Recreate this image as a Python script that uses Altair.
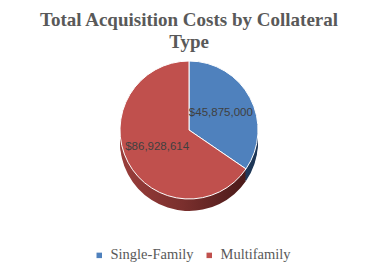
import altair as alt
import pandas as pd

categories = ["Single-Family", "Multifamily"]
values = [45875000, 86928614]
labels = ["$45,875,000", "$86,928,614"]
top_colors = ["#4F81BD", "#C0504D"]
side_fills = [
    {"gradient": "linear", "x1": 0, "x2": 1, "y1": 0, "y2": 0,
     "stops": [{"offset": 0, "color": "#2B4B73"}, {"offset": 1, "color": "#1C3454"}]},
    {"gradient": "linear", "x1": 0, "x2": 1, "y1": 0, "y2": 0,
     "stops": [{"offset": 0, "color": "#9A3E3B"}, {"offset": 0.5, "color": "#7A2F2D"},
               {"offset": 1, "color": "#4A1A19"}]},
]

df = pd.DataFrame({"category": categories, "value": values, "label": labels, "idx": [0, 1]})

CX, CY, R, DEPTH = 189, 74, 69, 12

base = alt.Chart(df)
theta = alt.Theta("value:Q", stack=True)
order = alt.Order("idx:Q")

layers = []
for d in range(DEPTH, 0, -2):
    for i, cat in enumerate(categories):
        layers.append(
            base.transform_joinaggregate(total="sum(value)")
            .transform_window(cum="sum(value)", sort=[alt.SortField("idx")])
            .transform_calculate(
                t0="2*PI*(datum.cum - datum.value)/datum.total",
                t1="2*PI*datum.cum/datum.total",
            )
            .transform_filter(alt.datum.category == cat)
            .mark_arc(radius=R, fill=side_fills[i])
            .encode(theta=alt.Theta("t0:Q", scale=None), theta2="t1:Q",
                    x=alt.value(CX), y=alt.value(CY + d))
        )

top = base.mark_arc(radius=R, stroke="white", strokeWidth=1).encode(
    theta=theta,
    order=order,
    x=alt.value(CX),
    y=alt.value(CY),
    color=alt.Color(
        "category:N",
        scale=alt.Scale(domain=categories, range=top_colors),
        sort=categories,
        legend=alt.Legend(
            title=None, orient="none", direction="horizontal",
            legendX=92, legendY=192,
            symbolType="square", symbolSize=30, symbolStrokeWidth=0,
            labelFont="Liberation Serif", labelFontSize=14.5, labelColor="#595959",
            columnPadding=8,
        ),
    ),
)

text = base.mark_text(font="Liberation Sans", fontSize=11.5, color="#404040").encode(
    theta=theta,
    order=order,
    radius=alt.value(36),
    x=alt.value(CX),
    y=alt.value(CY),
    text="label:N",
)

chart = alt.layer(*layers, top, text).properties(
    width=378,
    height=273,
    autosize=alt.AutoSizeParams(type="fit", contains="padding"),
    padding={"left": 0, "right": 0, "top": 11, "bottom": 0},
    title=alt.TitleParams(
        ["Total Acquisition Costs by Collateral", "Type"],
        font="Liberation Serif", fontSize=19, fontWeight="bold", color="#595959",
        anchor="middle", lineHeight=22, offset=4,
    ),
).configure(background="white", view=alt.ViewConfig(stroke=None))

chart.save("out.html", embed_options={"renderer": "svg", "actions": False})
